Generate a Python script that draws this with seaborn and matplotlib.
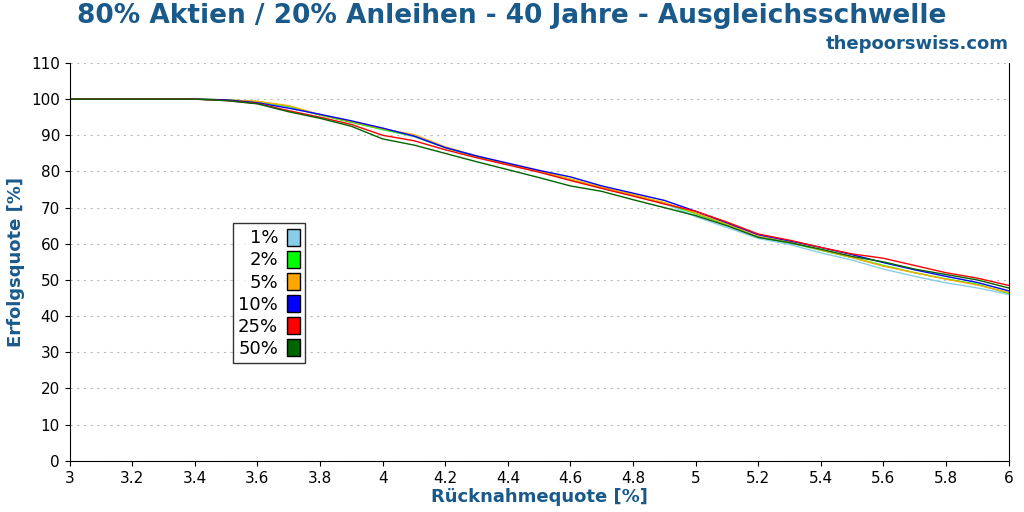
import seaborn as sns
import matplotlib.pyplot as plt
import matplotlib.patches as mpatches
import pandas as pd
import numpy as np

rates = [3.0, 3.1, 3.2, 3.3, 3.4, 3.5, 3.6, 3.7, 3.8, 3.9, 4.0, 4.1, 4.2, 4.3, 4.4, 4.5,
         4.6, 4.7, 4.8, 4.9, 5.0, 5.1, 5.2, 5.3, 5.4, 5.5, 5.6, 5.7, 5.8, 5.9, 6.0]

s1 = [100, 100, 100, 100, 100, 99.8, 99.3, 98.0, 95.6, 93.6, 91.6, 89.6, 86.6, 84.1, 82.0, 80.0,
      77.8, 75.5, 73.4, 71.2, 67.5, 64.5, 61.5, 59.8, 57.5, 55.5, 53.0, 51.0, 49.2, 47.8, 46.0]
s2 = [100, 100, 100, 100, 100, 99.8, 99.3, 98.0, 95.6, 93.6, 91.6, 89.8, 86.6, 84.1, 82.0, 80.0,
      77.8, 75.5, 73.4, 71.2, 68.3, 65.3, 61.8, 60.3, 58.2, 56.2, 54.0, 52.0, 50.3, 48.8, 46.3]
s5 = [100, 100, 100, 100, 100, 99.8, 99.4, 98.2, 95.7, 93.8, 91.8, 90.2, 86.8, 84.3, 82.1, 80.1,
      77.9, 75.6, 73.6, 71.4, 68.5, 65.4, 62.0, 60.4, 58.3, 56.2, 53.8, 52.0, 50.2, 48.6, 46.5]
s10 = [100, 100, 100, 100, 100, 99.8, 99.0, 97.5, 95.8, 94.0, 92.0, 89.8, 86.6, 84.3, 82.3, 80.3,
       78.5, 76.0, 74.0, 72.0, 69.0, 65.8, 62.5, 60.8, 59.0, 57.0, 54.8, 52.8, 51.0, 49.3, 47.0]
s25 = [100, 100, 100, 100, 100, 99.6, 98.8, 96.8, 95.0, 93.0, 90.0, 88.5, 86.0, 83.8, 81.8, 79.8,
       77.5, 75.3, 73.2, 71.0, 69.0, 66.0, 62.7, 61.0, 59.0, 57.2, 56.0, 54.0, 52.0, 50.5, 48.5]
s50 = [100, 100, 100, 100, 100, 99.6, 98.7, 96.5, 94.7, 92.5, 89.0, 87.3, 85.0, 82.7, 80.5, 78.3,
       76.0, 74.5, 72.2, 70.0, 67.8, 65.0, 61.8, 60.3, 58.5, 56.5, 55.0, 53.0, 51.5, 50.0, 47.8]

labels = ['1%', '2%', '5%', '10%', '25%', '50%']
series = [s1, s2, s5, s10, s25, s50]
colors = ['#87ceeb', '#00ff00', '#ffa500', '#0000ff', '#ff0000', '#006400']

df = pd.concat([pd.DataFrame({'rate': rates, 'success': s, 'group': l}) for s, l in zip(series, labels)])

blue = '#1a5a8a'
fig, ax = plt.subplots(figsize=(10.24, 5.12), dpi=100)
sns.lineplot(data=df, x='rate', y='success', hue='group', palette=dict(zip(labels, colors)),
             ax=ax, linewidth=1, legend=False)

ax.set_xlim(3, 6)
ax.set_ylim(0, 110)
ax.set_xticks(np.arange(3, 6.01, 0.2))
ax.set_xticklabels(['3', '3.2', '3.4', '3.6', '3.8', '4', '4.2', '4.4', '4.6', '4.8',
                    '5', '5.2', '5.4', '5.6', '5.8', '6'])
ax.set_yticks(range(0, 111, 10))
ax.yaxis.grid(True, linestyle=(0, (2, 4)), color='#bbbbbb', linewidth=0.8)
ax.spines['top'].set_visible(False)
ax.tick_params(labelsize=11)
ax.set_xlabel('Rücknahmequote [%]', fontsize=13, fontweight='bold', color=blue, labelpad=2)
ax.set_ylabel('Erfolgsquote [%]', fontsize=13, fontweight='bold', color=blue)

handles = [mpatches.Patch(facecolor=c, edgecolor='black', label=l) for c, l in zip(colors, labels)]
leg = ax.legend(handles=handles, loc='upper left', bbox_to_anchor=(0.164, 0.62), fontsize=13,
                markerfirst=False, handlelength=0.7, handleheight=1.1, handletextpad=0.5,
                labelspacing=0.18, fancybox=False, edgecolor='black', borderpad=0.3)
for t in leg.get_texts():
    t.set_ha('right')
leg.get_frame().set_linewidth(1)

fig.suptitle('80% Aktien / 20% Anleihen - 40 Jahre - Ausgleichsschwelle', fontsize=19,
             fontweight='bold', color=blue, y=0.995)
fig.text(0.985, 0.905, 'thepoorswiss.com', ha='right', fontsize=13, fontweight='bold', color=blue)
fig.subplots_adjust(left=0.068, right=0.985, top=0.877, bottom=0.1)
fig.savefig('out.png')
